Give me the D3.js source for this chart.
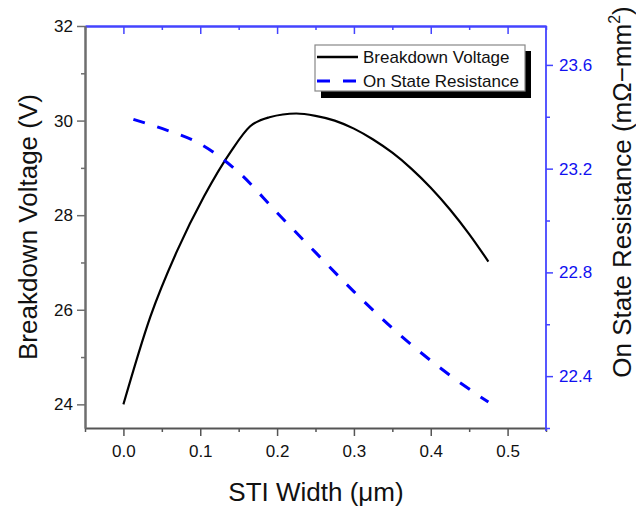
<!DOCTYPE html>
<html>
<head>
<meta charset="utf-8">
<script src="https://cdn.jsdelivr.net/npm/d3@7"></script>
<style>
  body { margin: 0; background: #fff; }
  text { font-family: Arial, "Liberation Sans", sans-serif; }
</style>
</head>
<body>
<script>
// breakdown voltage curve (V) vs STI width (um)
const widthBV = [0, 0.035, 0.07, 0.105, 0.14, 0.165, 0.19, 0.225, 0.25, 0.275, 0.3, 0.325, 0.35, 0.375, 0.4, 0.425, 0.45, 0.475]
const breakdownV = [24, 25.85, 27.25, 28.4, 29.35, 29.88, 30.07, 30.15, 30.1, 30.0, 29.83, 29.6, 29.32, 28.98, 28.58, 28.12, 27.6, 27.02]

// on state resistance (mOhm-mm2) vs STI width (um)
const widthR = [0.013, 0.05, 0.1, 0.15, 0.2, 0.25, 0.3, 0.35, 0.4, 0.45, 0.475]
const resistance = [23.39, 23.355, 23.295, 23.186, 23.03, 22.877, 22.726, 22.585, 22.46, 22.35, 22.3]

const xTicks = [0, 0.1, 0.2, 0.3, 0.4, 0.5]
const xMinor = [-0.05, 0.05, 0.15, 0.25, 0.35, 0.45, 0.55]
const yLeftTicks = [24, 26, 28, 30, 32]
const yLeftMinor = [25, 27, 29, 31]
const yRightTicks = [22.4, 22.8, 23.2, 23.6]
const yRightMinor = [22.2, 22.6, 23.0, 23.4]
const legendLabels = ['Breakdown Voltage', 'On State Resistance']

const w = 636, h = 509
const mLeft = 85, mRight = 546, mTop = 26, mBottom = 428
const blueAxis = '#4444ff'
const blueText = '#1010f0'

const svg = d3.select('body').append('svg')
    .attr('width', w)
    .attr('height', h)

const x = d3.scaleLinear().domain([-0.05, 0.55]).range([mLeft, mRight])
const yL = d3.scaleLinear().domain([23.5, 32]).range([mBottom, mTop])
const yR = d3.scaleLinear().domain([22.2, 23.75]).range([mBottom, mTop])

function styleAxis(g, color, width) {
    g.select('.domain').attr('stroke', color).attr('stroke-width', width)
    g.selectAll('.tick line').attr('stroke', color).attr('stroke-width', 1.5)
    g.selectAll('.tick text').attr('font-size', 17)
}

// top frame (blue, ticks inward)
svg.append('g').attr('transform', `translate(0,${mTop})`)
    .call(d3.axisBottom(x).tickValues(xTicks).tickSize(8).tickFormat('').tickSizeOuter(0))
    .call(g => styleAxis(g, blueAxis, 2))
svg.append('g').attr('transform', `translate(0,${mTop})`)
    .call(d3.axisBottom(x).tickValues(xMinor).tickSize(4).tickFormat('').tickSizeOuter(0))
    .call(g => styleAxis(g, blueAxis, 2))

// bottom axis
const gBottom = svg.append('g').attr('transform', `translate(0,${mBottom})`)
    .call(d3.axisBottom(x).tickValues(xTicks).tickSize(8).tickPadding(9).tickSizeOuter(0).tickFormat(d3.format('.1f')))
styleAxis(gBottom, '#222', 1.5)
gBottom.selectAll('.tick line').attr('stroke', '#555')
gBottom.selectAll('.tick text').attr('fill', '#111')
svg.append('g').attr('transform', `translate(0,${mBottom})`)
    .call(d3.axisBottom(x).tickValues(xMinor).tickSize(4).tickFormat('').tickSizeOuter(0))
    .call(g => styleAxis(g, '#555', 1.5))

// left axis
const gLeft = svg.append('g').attr('transform', `translate(${mLeft},0)`)
    .call(d3.axisLeft(yL).tickValues(yLeftTicks).tickSize(8).tickPadding(4).tickSizeOuter(0).tickFormat(d3.format('d')))
styleAxis(gLeft, '#6e6e6e', 2)
gLeft.selectAll('.tick text').attr('fill', '#111')
svg.append('g').attr('transform', `translate(${mLeft},0)`)
    .call(d3.axisLeft(yL).tickValues(yLeftMinor).tickSize(4).tickFormat('').tickSizeOuter(0))
    .call(g => styleAxis(g, '#6e6e6e', 2))

// right axis
const gRight = svg.append('g').attr('transform', `translate(${mRight},0)`)
    .call(d3.axisRight(yR).tickValues(yRightTicks).tickSize(7).tickPadding(6).tickSizeOuter(0).tickFormat(d3.format('.1f')))
styleAxis(gRight, blueAxis, 1.8)
gRight.select('.domain').attr('d', `M0,${mTop}V${mBottom + 3}`)
gRight.selectAll('.tick text').attr('fill', blueText)
svg.append('g').attr('transform', `translate(${mRight},0)`)
    .call(d3.axisRight(yR).tickValues(yRightMinor).tickSize(4).tickFormat('').tickSizeOuter(0))
    .call(g => styleAxis(g, blueAxis, 1.8))
    .select('.domain').remove()

// curves
const bvLine = d3.line()
    .curve(d3.curveMonotoneX)
    .x(d => x(d[0]))
    .y(d => yL(d[1]))
const rLine = d3.line()
    .curve(d3.curveMonotoneX)
    .x(d => x(d[0]))
    .y(d => yR(d[1]))

svg.append('path')
    .datum(d3.zip(widthBV, breakdownV))
    .attr('fill', 'none')
    .attr('stroke', '#000')
    .attr('stroke-width', 2.2)
    .attr('d', bvLine)

svg.append('path')
    .datum(d3.zip(widthR, resistance))
    .attr('fill', 'none')
    .attr('stroke', '#0000ff')
    .attr('stroke-width', 3)
    .attr('stroke-dasharray', '12,13')
    .attr('d', rLine)

// axis titles
svg.append('text')
    .attr('transform', 'translate(37,227) rotate(-90)')
    .attr('text-anchor', 'middle')
    .attr('font-size', 26)
    .attr('fill', '#111')
    .text('Breakdown Voltage (V)')

svg.append('text')
    .attr('x', 316)
    .attr('y', 501)
    .attr('text-anchor', 'middle')
    .attr('font-size', 26)
    .attr('fill', '#111')
    .text('STI Width (\u03bcm)')

const rt = svg.append('text')
    .attr('transform', 'translate(631,192) rotate(-90)')
    .attr('text-anchor', 'middle')
    .attr('font-size', 26)
    .attr('fill', '#111')
rt.append('tspan').text('On State Resistance (m\u03a9\u2212mm')
rt.append('tspan').attr('font-size', 16).attr('dy', -11).text('2')
rt.append('tspan').attr('dy', 11).text(')')

// legend
const lg = svg.append('g')
lg.append('rect').attr('x', 321).attr('y', 51).attr('width', 210).attr('height', 47).attr('fill', '#000')
lg.append('rect').attr('x', 315).attr('y', 45).attr('width', 210).attr('height', 46)
    .attr('fill', '#fff').attr('stroke', '#888').attr('stroke-width', 1.2)

const legendStyles = [
    { color: '#000', width: 2.5, dash: null },
    { color: '#0000ff', width: 3, dash: '13,13' }
]
legendLabels.forEach((label, i) => {
    const ly = 57 + i * 24
    lg.append('line')
        .attr('x1', 317).attr('x2', 358)
        .attr('y1', ly).attr('y2', ly)
        .attr('stroke', legendStyles[i].color)
        .attr('stroke-width', legendStyles[i].width)
        .attr('stroke-dasharray', legendStyles[i].dash)
    lg.append('text')
        .attr('x', 363)
        .attr('y', ly + 6)
        .attr('font-size', 17)
        .attr('fill', '#111')
        .text(label)
})
</script>
</body>
</html>
